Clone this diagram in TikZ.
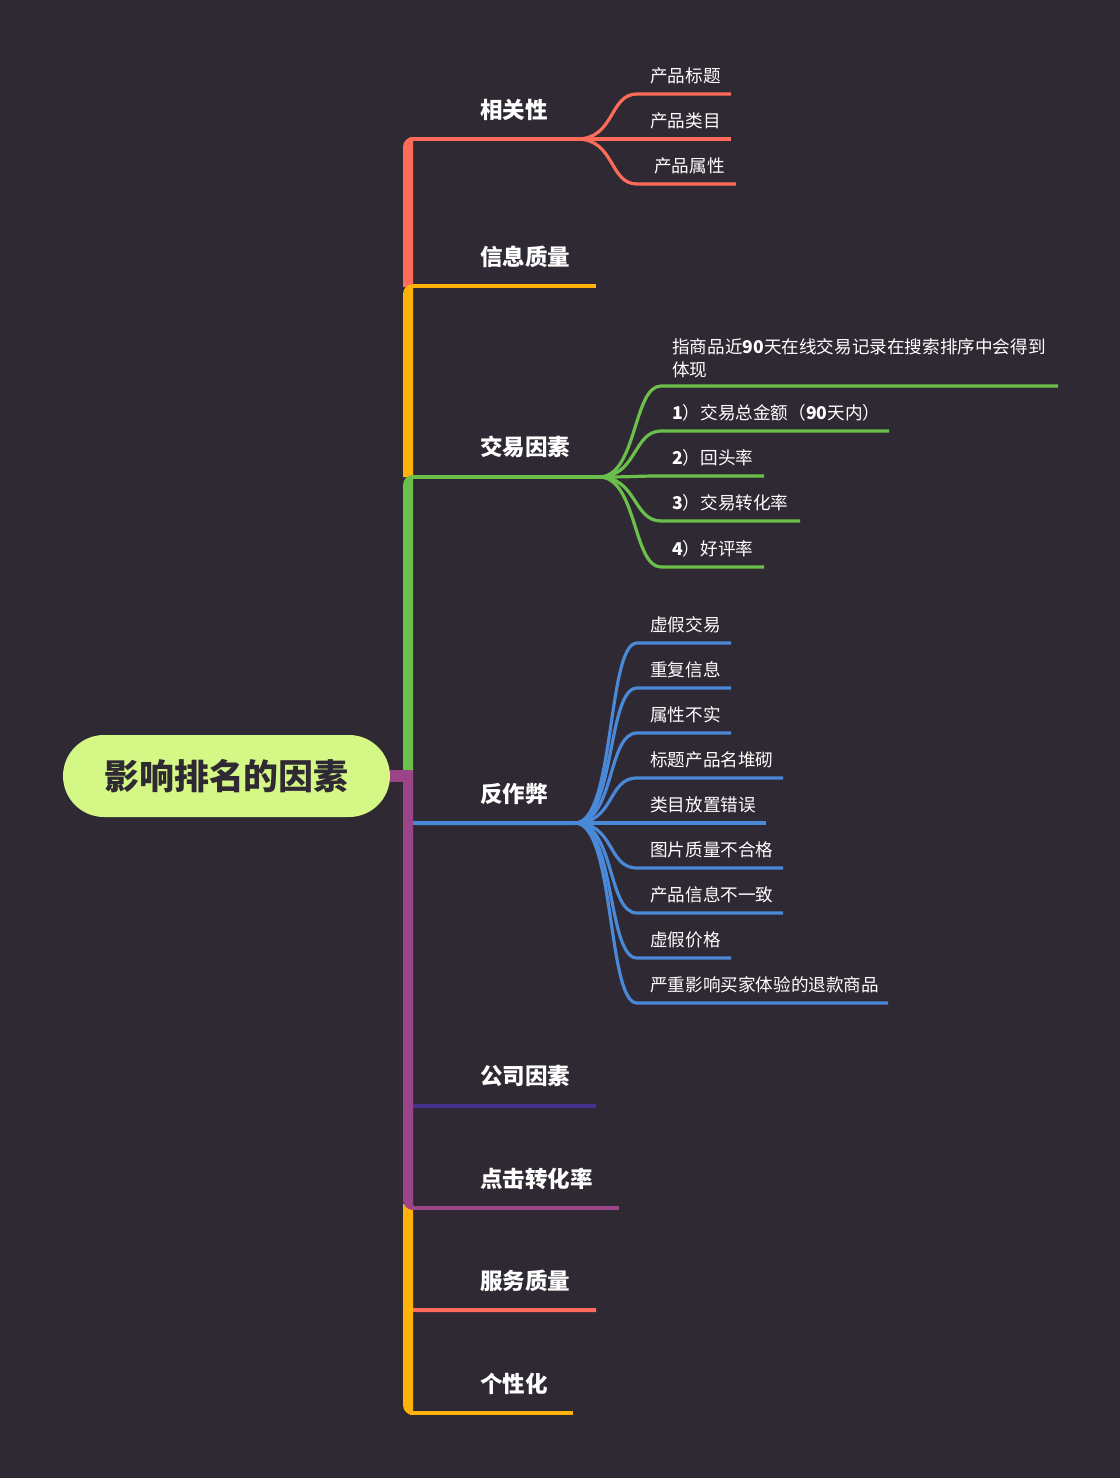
\documentclass[tikz,border=0pt]{standalone}
\usepackage{fontspec}
\setmainfont{Noto Sans CJK SC}
\definecolor{bg}{HTML}{2F2933}
\definecolor{cred}{HTML}{FF6B5B}
\definecolor{camber}{HTML}{FFB30A}
\definecolor{cgreen}{HTML}{6BC04B}
\definecolor{cblue}{HTML}{4A88D8}
\definecolor{cindigo}{HTML}{45308F}
\definecolor{cpurple}{HTML}{9B4488}
\definecolor{croot}{HTML}{D4F785}
\begin{document}
\begin{tikzpicture}[x=0.75pt,y=-0.75pt,
  mainlbl/.style={text=white,font=\fontsize{16.9pt}{20pt}\selectfont\bfseries,anchor=west,inner sep=0pt},
  sublbl/.style={text=white,font=\fontsize{13.2pt}{17.25pt}\selectfont,anchor=west,inner sep=0pt,align=left},
  mline/.style={line width=3pt},
  sline/.style={line width=2.4pt}]
\useasboundingbox (0,0) rectangle (1120,1478);
\fill[bg] (0,0) rectangle (1120,1478);

% ---------- coordinates ----------
\coordinate (hub) at (408,776);
\coordinate (s1) at (410,139)  ; \coordinate (e1) at (577,139);
\coordinate (s2) at (410,286)  ; \coordinate (e2) at (596,286);
\coordinate (s3) at (410,477)  ; \coordinate (e3) at (599,477);
\coordinate (s4) at (408,813)  ; \coordinate (e4) at (575,823);
\coordinate (s5) at (408,1096) ; \coordinate (e5) at (596,1106);
\coordinate (s6) at (410,1208) ; \coordinate (e6) at (619,1208);
\coordinate (s7) at (408,1300) ; \coordinate (e7) at (596,1310);
\coordinate (s8) at (410,1413) ; \coordinate (e8) at (573,1413);

% ---------- main underlines ----------
\draw[cred,mline] (s1) -- (e1);
\draw[camber,mline] (s2) -- (e2);
\draw[cgreen,mline] (s3) -- (e3);
\draw[cblue,mline] (s4) .. controls (408,823) .. (418,823) -- (e4);
\draw[cindigo,mline] (s5) .. controls (408,1106) .. (418,1106) -- (e5);
\draw[cpurple,mline] (s6) -- (e6);
\draw[cred,mline] (s7) .. controls (408,1310) .. (418,1310) -- (e7);
\draw[camber,mline] (s8) -- (e8);

% ---------- main labels ----------
\node[mainlbl] (m1) at (480,110)  {相关性};
\node[mainlbl] (m2) at (480,257)  {信息质量};
\node[mainlbl] (m3) at (480,447)  {交易因素};
\node[mainlbl] (m4) at (480,794)  {反作弊};
\node[mainlbl] (m5) at (480,1076) {公司因素};
\node[mainlbl] (m6) at (480,1179) {点击转化率};
\node[mainlbl] (m7) at (480,1281) {服务质量};
\node[mainlbl] (m8) at (480,1384) {个性化};

% ---------- 相关性 children ----------
\foreach \y/\e/\tx/\t [count=\i] in {94/731/650/产品标题, 139/731/650/产品类目, 184/736/654/产品属性}{
  \coordinate (r\i s) at (637,\y);
  \coordinate (r\i e) at (\e,\y);
  \draw[cred,sline] (e1) .. controls +(38,0) and +(-28,0) .. (r\i s) -- (r\i e);
  \node[sublbl] (r\i) at (\tx,\y-18) {\t};
}

% ---------- 交易因素 children ----------
\foreach \y/\e [count=\i] in {386/1058, 431/889, 476/764, 521/800, 567/764}{
  \coordinate (g\i s) at (661,\y);
  \coordinate (g\i e) at (\e,\y);
  \draw[cgreen,sline] (e3) .. controls +(38,0) and +(-28,0) .. (g\i s) -- (g\i e);
}
\node[sublbl] (g1) at (672,358) {指商品近\textbf{90}天在线交易记录在搜索排序中会得到\\体现};
\node[sublbl] (g2) at (672,413) {\textbf{1}）交易总金额（\textbf{90}天内）};
\node[sublbl] (g3) at (672,458) {\textbf{2}）回头率};
\node[sublbl] (g4) at (672,503) {\textbf{3}）交易转化率};
\node[sublbl] (g5) at (672,549) {\textbf{4}）好评率};

% ---------- 反作弊 children ----------
\foreach \y/\e/\t [count=\i] in {643/731/虚假交易, 688/731/重复信息, 733/731/属性不实,
  778/783/标题产品名堆砌, 823/766/类目放置错误, 868/783/图片质量不合格,
  913/783/产品信息不一致, 958/731/虚假价格, 1003/888/严重影响买家体验的退款商品}{
  \coordinate (b\i s) at (637,\y);
  \coordinate (b\i e) at (\e,\y);
  \draw[cblue,sline] (e4) .. controls +(40,0) and +(-30,0) .. (b\i s) -- (b\i e);
  \node[sublbl] (b\i) at (650,\y-18) {\t};
}

% ---------- spine ----------
\fill[cred] (403,287) -- (403,147) .. controls (403,141.5) and (407.5,137) .. (413,137) -- (413,287) -- cycle;
\fill[camber] (403,477) -- (403,294) .. controls (403,288.5) and (407.5,284) .. (413,284) -- (413,477) -- cycle;
\fill[cgreen] (403,772) -- (403,485) .. controls (403,479.5) and (407.5,475) .. (413,475) -- (413,772) -- cycle;
\fill[camber] (403,1204) -- (403,1405) .. controls (403,1410.5) and (407.5,1415) .. (413,1415) -- (413,1204) -- cycle;
\fill[cpurple] (403,770) -- (403,1200) .. controls (403,1205.5) and (407.5,1210) .. (413,1210) -- (413,770) -- cycle;

% ---------- root ----------
\node[fill=croot,rounded corners=30.75pt,minimum width=245.25pt,minimum height=61.5pt,inner sep=0pt,
  text=bg,font=\fontsize{26.2pt}{30pt}\selectfont\bfseries] (root) at (226.5,776) {影响排名的因素};
\draw[cpurple,line width=9pt] (root.east) -- (hub);
\end{tikzpicture}
\end{document}
